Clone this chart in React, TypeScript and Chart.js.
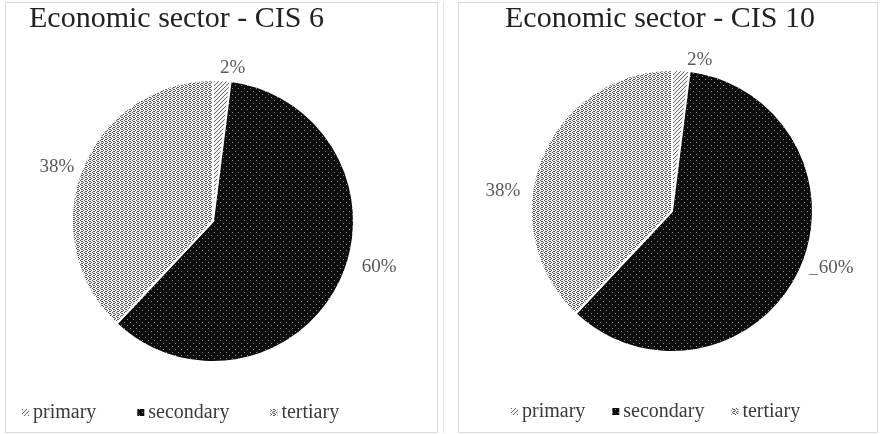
import { useEffect, useRef } from "react";
import { Chart, registerables } from "chart.js";

Chart.register(...registerables);

// Shares of employment by economic sector (%)
const sectors = ["primary", "secondary", "tertiary"];
const cis6Shares = [2, 60, 38];
const cis10Shares = [2, 60, 38];
const cis6Title = "Economic sector - CIS 6";
const cis10Title = "Economic sector - CIS 10";

const SERIF = "'Liberation Serif', 'Times New Roman', Times, serif";
const LABEL_GAP = 14;

type PanelLayout = {
  padding: { left: number; right: number; top: number; bottom: number };
  radius: number;
  titleX: number;
  titleY: number;
  legendX: number;
  legendY: number;
  legendGap: number;
  labelNudge: [number, number][];
  leaderIndex: number;
};

const leftLayout: PanelLayout = {
  padding: { left: 60, right: 74, top: 70, bottom: 62 },
  radius: 141,
  titleX: 29,
  titleY: 27,
  legendX: 22,
  legendY: 418,
  legendGap: 41,
  labelNudge: [
    [10, 2],
    [26, -20],
    [-12, 3],
  ],
  leaderIndex: -1,
};

const rightLayout: PanelLayout = {
  padding: { left: 80, right: 56, top: 70, bottom: 82 },
  radius: 141,
  titleX: 65,
  titleY: 27,
  legendX: 71,
  legendY: 417,
  legendGap: 27,
  labelNudge: [
    [18, 4],
    [24, -9],
    [-25, 37],
  ],
  leaderIndex: 1,
};

// Small bitmap tiles for the monochrome fills
function tile(ctx: CanvasRenderingContext2D, size: number, bg: string, fg: string, rows: number[]) {
  const c = document.createElement("canvas");
  c.width = size;
  c.height = size;
  const g = c.getContext("2d")!;
  g.fillStyle = bg;
  g.fillRect(0, 0, size, size);
  g.fillStyle = fg;
  rows.forEach((bits, y) => {
    for (let x = 0; x < size; x++) {
      if (bits & (1 << (size - 1 - x))) g.fillRect(x, y, 1, 1);
    }
  });
  return ctx.createPattern(c, "repeat")!;
}

function sectorFills(ctx: CanvasRenderingContext2D) {
  const hatch = tile(ctx, 4, "#f4f4f4", "#6a6a6a", [0b0001, 0b0010, 0b0100, 0b1000]);
  const dots = tile(ctx, 6, "#0d0d0d", "#8a8a8a", [0, 0b010000, 0, 0, 0b000010, 0]);
  const stipple = tile(ctx, 4, "#f2f2f2", "#585858", [0b1000, 0b0110, 0b0001, 0b0110]);
  return [hatch, dots, stipple];
}

function decorPlugin(title: string, values: number[], layout: PanelLayout) {
  return {
    id: "panelDecor",
    afterDatasetsDraw(chart: any) {
      const ctx: CanvasRenderingContext2D = chart.ctx;
      const meta = chart.getDatasetMeta(0);
      const fills = chart.data.datasets[0].backgroundColor as CanvasPattern[];
      ctx.save();

      // percentage labels outside each slice
      ctx.font = `19px ${SERIF}`;
      ctx.fillStyle = "#595959";
      ctx.textAlign = "center";
      ctx.textBaseline = "middle";
      meta.data.forEach((arc: any, i: number) => {
        const p = arc.getProps(["x", "y", "startAngle", "endAngle", "outerRadius"], true);
        const mid = (p.startAngle + p.endAngle) / 2;
        const d = p.outerRadius + LABEL_GAP;
        const [dx, dy] = layout.labelNudge[i];
        const lx = p.x + Math.cos(mid) * d + dx;
        const ly = p.y + Math.sin(mid) * d + dy;
        const text = `${values[i]}%`;
        ctx.fillText(text, lx, ly);
        if (i === layout.leaderIndex) {
          const w = ctx.measureText(text).width;
          ctx.strokeStyle = "#7f7f7f";
          ctx.lineWidth = 1;
          ctx.beginPath();
          ctx.moveTo(lx - w / 2 - 10, ly + 6.5);
          ctx.lineTo(lx - w / 2 - 1, ly + 6.5);
          ctx.stroke();
        }
      });

      // title
      ctx.font = `30px ${SERIF}`;
      ctx.fillStyle = "#222222";
      ctx.textAlign = "left";
      ctx.textBaseline = "alphabetic";
      ctx.fillText(title, layout.titleX, layout.titleY);

      // legend
      ctx.font = `20px ${SERIF}`;
      let x = layout.legendX;
      sectors.forEach((name, i) => {
        ctx.fillStyle = fills[i];
        ctx.fillRect(x, layout.legendY - 9, 7, 7);
        ctx.fillStyle = "#3a3a3a";
        ctx.fillText(name, x + 11, layout.legendY);
        x += 11 + ctx.measureText(name).width + layout.legendGap;
      });
      ctx.restore();
    },
  };
}

function SectorPie({ left, title, values, layout }: { left: number; title: string; values: number[]; layout: PanelLayout }) {
  const ref = useRef<HTMLCanvasElement>(null);
  useEffect(() => {
    const canvas = ref.current!;
    const ctx = canvas.getContext("2d")!;
    const chart = new Chart(ctx, {
      type: "pie",
      data: {
        labels: sectors,
        datasets: [
          {
            data: values,
            backgroundColor: sectorFills(ctx),
            borderColor: "#ffffff",
            borderWidth: 2,
          },
        ],
      },
      options: {
        responsive: false,
        animation: false,
        radius: layout.radius,
        layout: { padding: layout.padding },
        plugins: {
          legend: { display: false },
          title: { display: false },
          tooltip: { enabled: false },
        },
      } as any,
      plugins: [decorPlugin(title, values, layout)],
    });
    return () => chart.destroy();
  }, []);
  return (
    <canvas
      ref={ref}
      width={440}
      height={434}
      style={{ position: "absolute", left, top: 0, width: 440, height: 434 }}
    />
  );
}

export default function App() {
  return (
    <div style={{ position: "fixed", left: 0, top: 0, width: 880, height: 434, background: "#ffffff", overflow: "hidden" }}>
      <div style={{ position: "absolute", left: 5, top: 2, width: 431, height: 429, border: "1px solid #d9d9d9" }} />
      <div style={{ position: "absolute", left: 443, top: 2, width: 1, height: 431, background: "#e3e3e3" }} />
      <div style={{ position: "absolute", left: 458, top: 2, width: 418, height: 429, border: "1px solid #d9d9d9" }} />
      <SectorPie left={0} title={cis6Title} values={cis6Shares} layout={leftLayout} />
      <SectorPie left={440} title={cis10Title} values={cis10Shares} layout={rightLayout} />
    </div>
  );
}
